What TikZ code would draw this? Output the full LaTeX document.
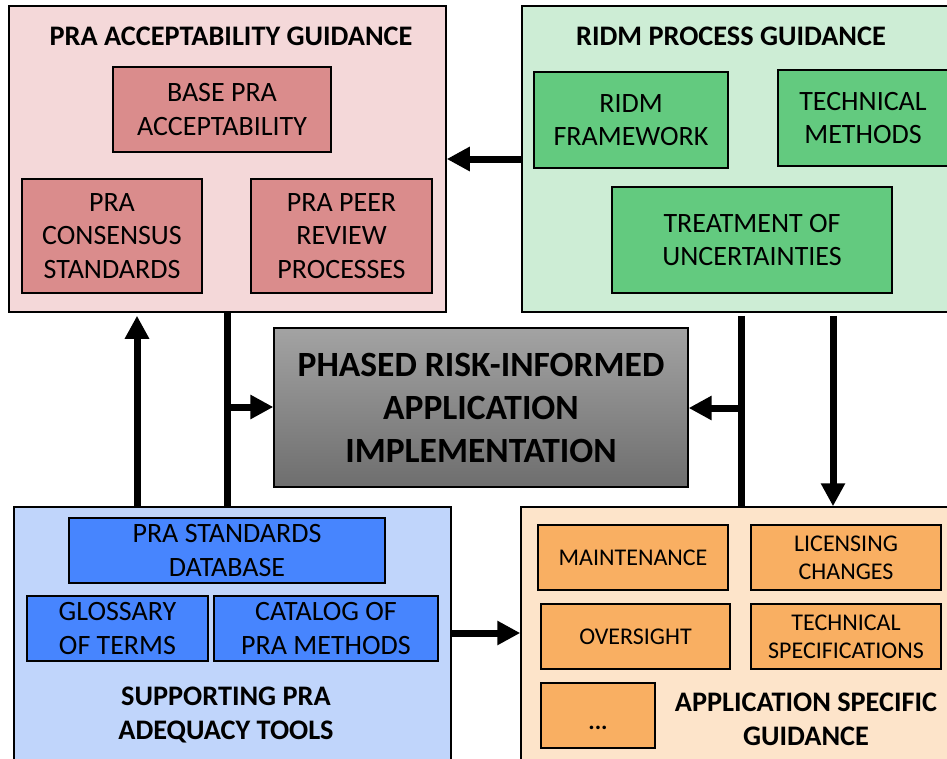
\documentclass[tikz,border=0pt]{standalone}
\usepackage{fontspec}
\setmainfont{Carlito}
\usetikzlibrary{arrows.meta}

\definecolor{praout}{HTML}{F4D8D9}
\definecolor{prain}{HTML}{DA8C8C}
\definecolor{ridmout}{HTML}{CDEDD5}
\definecolor{ridmin}{HTML}{63CA7F}
\definecolor{supout}{HTML}{C0D5FB}
\definecolor{supin}{HTML}{4785FE}
\definecolor{appout}{HTML}{FDE4CA}
\definecolor{appin}{HTML}{F9AF62}
\definecolor{phasetop}{HTML}{A3A3A3}
\definecolor{phasebot}{HTML}{6E6E6E}

\tikzset{
  group/.style={draw=black, line width=1.5pt, rectangle, inner sep=0pt},
  item/.style={draw=black, line width=1.3pt, rectangle, inner sep=0pt, align=center,
    font=\fontsize{28}{33.5}\selectfont},
  smallitem/.style={item, font=\fontsize{24}{28}\selectfont},
  grouptitle/.style={inner sep=0pt, align=center, font=\bfseries\fontsize{28.3}{33.5}\selectfont},
  arr/.style={line width=7pt, -{Triangle[length=23pt,width=23pt]}},
  bus/.style={line width=7pt}
}

\begin{document}
\begin{tikzpicture}[x=1pt,y=-1pt]
    \useasboundingbox (0,0) rectangle (947,758);
    \clip (0,0) rectangle (947,758);

    % Group frames
    \node[group, fill=praout, minimum width=437, minimum height=306] (pra) at (227.5,159) {};
    \node[group, fill=ridmout, minimum width=445, minimum height=306] (ridm) at (744.5,159) {};
    \node[group, fill=supout, minimum width=437, minimum height=263] (sup) at (232.5,638.5) {};
    \node[group, fill=appout, minimum width=439, minimum height=263] (app) at (740.5,638.5) {};

    % PRA acceptability guidance
    \node[grouptitle, anchor=base] (pratitle) at (231,45) {PRA ACCEPTABILITY GUIDANCE};
    \node[item, fill=prain, minimum width=218, minimum height=85] (base) at (222,109.5)
        {BASE PRA\\ACCEPTABILITY};
    \node[item, fill=prain, minimum width=180, minimum height=114] (consensus) at (112,236)
        {PRA\\CONSENSUS\\STANDARDS};
    \node[item, fill=prain, minimum width=181, minimum height=114] (peer) at (341.5,236)
        {PRA PEER\\REVIEW\\PROCESSES};

    % RIDM process guidance
    \node[grouptitle, anchor=base] (ridmtitle) at (731,45) {RIDM PROCESS GUIDANCE};
    \node[item, fill=ridmin, minimum width=194, minimum height=96] (framework) at (631,120)
        {RIDM\\FRAMEWORK};
    \node[item, fill=ridmin, minimum width=170, minimum height=96] (techmeth) at (863,118)
        {TECHNICAL\\METHODS};
    \node[item, fill=ridmin, minimum width=280, minimum height=106] (uncert) at (752,240)
        {TREATMENT OF\\UNCERTAINTIES};

    % Supporting PRA adequacy tools
    \node[item, fill=supin, minimum width=316, minimum height=65] (stddb) at (227,550.5)
        {PRA STANDARDS\\DATABASE};
    \node[item, fill=supin, minimum width=181, minimum height=65] (glossary) at (117.5,628.5)
        {GLOSSARY\\OF TERMS};
    \node[item, fill=supin, minimum width=224, minimum height=65] (catalog) at (326,628.5)
        {CATALOG OF\\PRA METHODS};
    \node[grouptitle, anchor=base] (suptitle) at (226,739) {SUPPORTING PRA\\ADEQUACY TOOLS};

    % Application specific guidance
    \node[smallitem, fill=appin, minimum width=190, minimum height=65] (maint) at (633,557.5)
        {MAINTENANCE};
    \node[smallitem, fill=appin, minimum width=190, minimum height=65] (licensing) at (846,557.5)
        {LICENSING\\CHANGES};
    \node[smallitem, fill=appin, minimum width=189, minimum height=65] (oversight) at (635.5,636.5)
        {OVERSIGHT};
    \node[smallitem, fill=appin, minimum width=190, minimum height=65] (techspec) at (846,636.5)
        {TECHNICAL\\SPECIFICATIONS};
    \node[smallitem, fill=appin, minimum width=114, minimum height=65,
          text height=27pt, text depth=0pt] (more) at (598,715.5)
        {\textbf{...}};
    \node[grouptitle, anchor=base] (apptitle) at (806,745) {APPLICATION SPECIFIC\\GUIDANCE};

    % Connectors
    \coordinate (upline) at (137,0);
    \coordinate (lbus) at (227,407);
    \coordinate (rbus) at (741,408);
    \coordinate (dnline) at (833,0);
    \coordinate (sideline) at (0,633);
    \draw[arr] (ridm.west) -- (pra.east);
    \draw[arr, shorten >=3pt] (sup.north -| upline) -- (pra.south -| upline);
    \draw[bus] (pra.south -| lbus) -- (sup.north -| lbus);
    \draw[bus, shorten <=3pt] (ridm.south -| rbus) -- (app.north -| rbus);
    \draw[arr, shorten <=3pt] (ridm.south -| dnline) -- (app.north -| dnline);
    \draw[arr] (sup.east |- sideline) -- (app.west |- sideline);

    % Central implementation box
    \node[draw=black, line width=1.3pt, top color=phasetop, bottom color=phasebot,
          minimum width=414, minimum height=159, inner sep=0pt, align=center,
          font=\bfseries\fontsize{35.5}{43}\selectfont] (phase) at (481,407.5)
        {PHASED RISK-INFORMED\\APPLICATION\\IMPLEMENTATION};
    \draw[arr] (lbus) -- (lbus -| phase.west);
    \draw[arr] (rbus) -- (rbus -| phase.east);
\end{tikzpicture}
\end{document}
